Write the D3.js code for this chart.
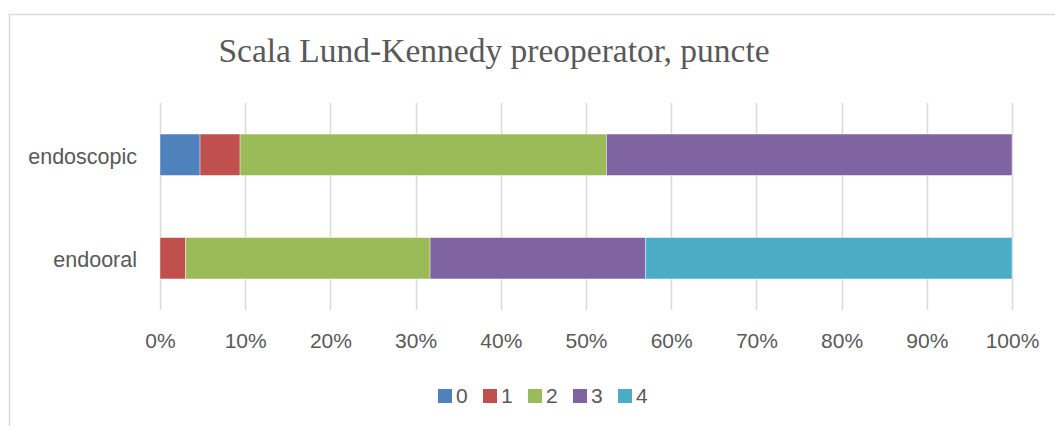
<!DOCTYPE html>
<html>
<head>
<meta charset="utf-8">
<script src="https://cdn.jsdelivr.net/npm/d3@7/dist/d3.min.js"></script>
<style>
html,body{margin:0;padding:0;background:#fff;}
svg{display:block;}
</style>
</head>
<body>
<svg id="chart" width="1055" height="426"></svg>
<script>
const categories = ["endoscopic", "endooral"];
const seriesNames = ["0", "1", "2", "3", "4"];
const seriesColors = ["#4F81BD", "#C0504D", "#9BBB59", "#8064A2", "#4BACC6"];
// percentage shares per category, in series order
const endoscopicValues = [4.7, 4.7, 43.0, 47.6, 0];
const endooralValues = [0, 3.0, 28.7, 25.3, 43.0];
const tickValues = [0, 0.1, 0.2, 0.3, 0.4, 0.5, 0.6, 0.7, 0.8, 0.9, 1.0];
const titleText = "Scala Lund-Kennedy preoperator, puncte";

const valuesByCategory = { endoscopic: endoscopicValues, endooral: endooralValues };
const rows = categories.map(c => {
  const vals = valuesByCategory[c];
  const total = d3.sum(vals);
  const r = { category: c };
  seriesNames.forEach((s, i) => r[s] = vals[i] / total);
  return r;
});

const svg = d3.select("#chart");
const gray = "#595959";
const sansFont = "'Liberation Sans', Arial, sans-serif";

// outer chart border
svg.append("rect")
  .attr("x", 9.5).attr("y", 14.5)
  .attr("width", 1100).attr("height", 500)
  .attr("fill", "none").attr("stroke", "#d9d9d9").attr("stroke-width", 1.5);

const plot = { left: 160, right: 1012, top: 103, bottom: 310 };

const x = d3.scaleLinear().domain([0, 1]).range([plot.left, plot.right]);
const y = d3.scaleBand().domain(categories).range([plot.top, plot.bottom]).paddingInner(0.6).paddingOuter(0.3);

// gridlines
svg.append("g").selectAll("line").data(tickValues).join("line")
  .attr("x1", d => Math.round(x(d)) + 0.5).attr("x2", d => Math.round(x(d)) + 0.5)
  .attr("y1", plot.top).attr("y2", plot.bottom)
  .attr("stroke", "#d9d9d9").attr("stroke-width", 1.5);

// stacked bars
const stack = d3.stack().keys(seriesNames);
const stacked = stack(rows);
const color = d3.scaleOrdinal().domain(seriesNames).range(seriesColors);

svg.append("g").selectAll("g").data(stacked).join("g")
  .attr("fill", d => color(d.key))
  .selectAll("rect").data(d => d).join("rect")
  .attr("x", d => x(d[0]))
  .attr("width", d => Math.max(0, x(d[1]) - x(d[0])))
  .attr("y", d => y(d.data.category))
  .attr("height", y.bandwidth())
  .attr("stroke", "rgba(255,255,255,0.5)")
  .attr("stroke-width", d => (d[1] - d[0]) > 0 ? 0.8 : 0);

// x axis labels
const xAxis = d3.axisBottom(x).tickValues(tickValues).tickFormat(d3.format(".0%")).tickSize(0).tickPadding(0);
const gx = svg.append("g").attr("transform", `translate(0, 334)`).call(xAxis);
gx.select(".domain").remove();
gx.selectAll("text")
  .attr("fill", gray).attr("font-family", sansFont).attr("font-size", 21)
  .attr("dy", "0.32em").attr("y", 7);

// y axis labels
const yAxis = d3.axisLeft(y).tickSize(0).tickPadding(0);
const gy = svg.append("g").attr("transform", `translate(137, 2)`).call(yAxis);
gy.select(".domain").remove();
gy.selectAll("text")
  .attr("fill", gray).attr("font-family", sansFont).attr("font-size", 21.5)
  .attr("dy", "0.32em");

// title
svg.append("text")
  .attr("x", 494).attr("y", 62)
  .attr("text-anchor", "middle")
  .attr("font-family", "'Liberation Serif', 'Times New Roman', serif")
  .attr("font-size", 33.5)
  .attr("fill", gray)
  .text(titleText);

// legend
const legendX = d3.scalePoint().domain(seriesNames).range([438, 618]);
const lg = svg.append("g").selectAll("g").data(seriesNames).join("g")
  .attr("transform", d => `translate(${legendX(d)}, 389)`);
lg.append("rect").attr("width", 14).attr("height", 14).attr("fill", d => color(d));
lg.append("text").attr("x", 18).attr("y", 7).attr("dy", "0.35em")
  .attr("fill", gray).attr("font-family", sansFont).attr("font-size", 21)
  .text(d => d);
</script>
</body>
</html>
